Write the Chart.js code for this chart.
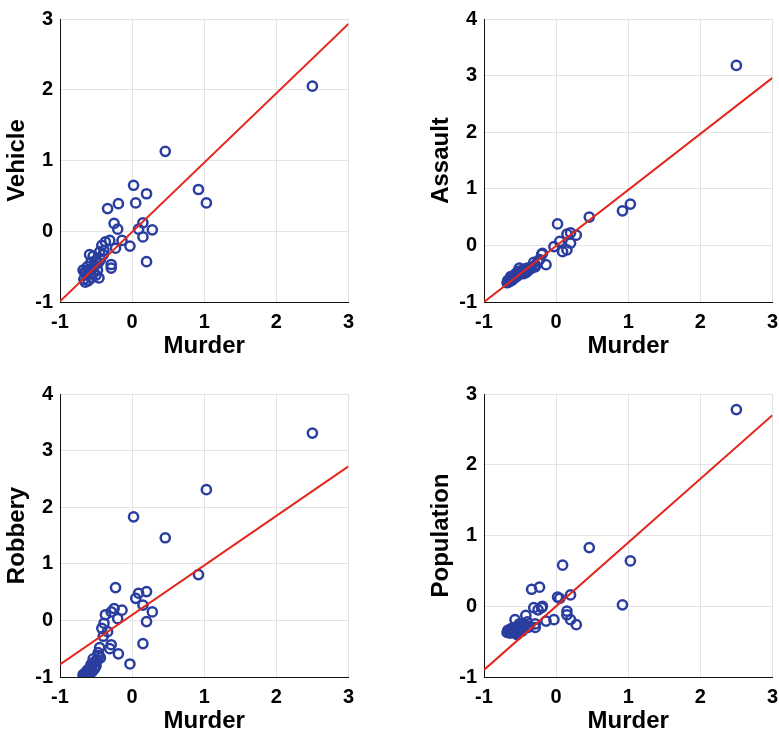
<!DOCTYPE html>
<html>
<head>
<meta charset="utf-8">
<script src="https://cdn.jsdelivr.net/npm/chart.js@4.4.0/dist/chart.umd.min.js"></script>
<style>
  html, body { margin: 0; padding: 0; background: #fff; overflow: hidden; }
  #wrap { position: relative; width: 779px; height: 733px; }
  .cell { position: absolute; width: 362px; height: 358px; }
</style>
</head>
<body>
<div id="wrap">
  <div class="cell" style="left:0;top:0"><canvas id="c0" width="362" height="358"></canvas></div>
  <div class="cell" style="left:424px;top:0"><canvas id="c1" width="362" height="358"></canvas></div>
  <div class="cell" style="left:0;top:375px"><canvas id="c2" width="362" height="358"></canvas></div>
  <div class="cell" style="left:424px;top:375px"><canvas id="c3" width="362" height="358"></canvas></div>
</div>
<script>
// standardized values, one entry per state
const murder = [2.5, 1.03, 0.92, 0.46, 0.28, 0.2, 0.2, 0.15, 0.15, 0.09,
  0.05, 0.02, -0.03, -0.14, -0.19, -0.2, -0.23, -0.25, -0.29, -0.29,
  -0.31, -0.34, -0.37, -0.39, -0.4, -0.42, -0.45, -0.47, -0.48, -0.5,
  -0.52, -0.53, -0.55, -0.56, -0.57, -0.58, -0.59, -0.6, -0.61, -0.62,
  -0.63, -0.64, -0.65, -0.66, -0.67, -0.68, -0.44, -0.46, -0.51, -0.54];

const vehicle = [2.05, 0.4, 0.59, 1.13, 0.02, 0.53, -0.43, 0.12, -0.08, 0.03,
  0.4, 0.65, -0.21, -0.13, 0.39, 0.03, -0.24, 0.11, -0.47, -0.52,
  -0.13, 0.32, -0.15, -0.27, -0.33, -0.2, -0.29, -0.45, -0.55, -0.62,
  -0.48, -0.58, -0.52, -0.66, -0.44, -0.6, -0.33, -0.55, -0.7, -0.5,
  -0.62, -0.57, -0.72, -0.58, -0.68, -0.55, -0.4, -0.66, -0.42, -0.35];

const assault = [3.18, 0.73, 0.61, 0.5, 0.18, 0.22, 0.04, 0.2, -0.08, -0.11,
  0.07, 0.38, -0.02, -0.34, -0.14, -0.16, -0.25, -0.28, -0.35, -0.38,
  -0.3, -0.4, -0.42, -0.45, -0.4, -0.48, -0.5, -0.44, -0.45, -0.5,
  -0.52, -0.46, -0.55, -0.5, -0.56, -0.58, -0.54, -0.6, -0.57, -0.62,
  -0.55, -0.63, -0.6, -0.65, -0.62, -0.66, -0.42, -0.47, -0.4, -0.48];

const robbery = [3.31, 2.31, 0.81, 1.46, 0.15, 0.51, -0.02, 0.27, -0.41, 0.48,
  0.39, 1.83, -0.77, 0.18, -0.59, 0.03, 0.58, 0.21, 0.15, -0.43,
  -0.5, -0.2, 0.1, -0.05, -0.28, -0.14, -0.48, -0.57, -0.7, -0.8,
  -0.85, -0.75, -0.9, -0.82, -0.78, -0.93, -0.86, -0.9, -0.95, -0.88,
  -0.97, -0.92, -0.99, -0.94, -1.0, -0.96, -0.66, -0.62, -0.72, -0.68];

const population = [2.78, 0.64, 0.02, 0.83, -0.26, 0.16, -0.19, -0.07, -0.12, 0.58,
  0.11, 0.13, -0.19, -0.21, 0.0, -0.02, 0.27, -0.05, -0.25, -0.3,
  -0.02, 0.24, -0.28, -0.3, -0.22, -0.13, -0.3, -0.35, -0.3, -0.33,
  -0.28, -0.36, -0.32, -0.38, -0.19, -0.35, -0.3, -0.37, -0.33, -0.36,
  -0.32, -0.38, -0.35, -0.36, -0.34, -0.37, -0.27, -0.33, -0.25, -0.4];

const yNames = ["Vehicle", "Assault", "Robbery", "Population"];
const yMax = [3, 4, 4, 3];
// least squares fit, y = slope * murder + intercept
const fitSlope = [0.98, 0.99, 0.875, 0.9];
const fitIntercept = [-0.01, -0.01, 0.095, 0.0];
const xTicks = [-1, 0, 1, 2, 3];

const allY = [vehicle, assault, robbery, population];
const font = "'Liberation Sans', Arial, Helvetica, sans-serif";
const blue = "rgb(42,62,160)";
const red = "rgb(228,38,28)";

allY.forEach((ys, i) => {
  const pts = murder.map((m, k) => ({ x: m, y: ys[k] }));
  const xMin = xTicks[0], xMax = xTicks[xTicks.length - 1];
  const fit = [xMin, xMax].map(x => ({ x, y: fitSlope[i] * x + fitIntercept[i] }));

  new Chart(document.getElementById("c" + i), {
    type: "scatter",
    data: {
      datasets: [
        {
          type: "line",
          data: fit,
          borderColor: red,
          borderWidth: 2,
          pointRadius: 0,
          fill: false
        },
        {
          data: pts,
          borderColor: blue,
          backgroundColor: "rgba(0,0,0,0)",
          borderWidth: 2.5,
          pointRadius: 4.6,
          pointHoverRadius: 4.6
        }
      ]
    },
    options: {
      responsive: false,
      devicePixelRatio: 1,
      animation: false,
      layout: { padding: { top: 12, right: 12, left: 0, bottom: 0 } },
      plugins: { legend: { display: false }, tooltip: { enabled: false } },
      scales: {
        x: {
          type: "linear",
          min: xMin,
          max: xMax,
          afterFit: s => { s.height = 56; },
          ticks: { stepSize: 1, color: "#000", padding: 8, font: { family: font, size: 20, weight: "bold" } },
          grid: { color: "#e3e3e3", drawTicks: false },
          border: { color: "#111", width: 1 },
          title: { display: true, text: "Murder", color: "#000", padding: { top: 0, bottom: 0 },
                   font: { family: font, size: 24, weight: "bold", lineHeight: 1.0 } }
        },
        y: {
          type: "linear",
          min: -1,
          max: yMax[i],
          afterFit: s => { s.width = 60; },
          ticks: { stepSize: 1, color: "#000", padding: 7, font: { family: font, size: 20, weight: "bold" } },
          grid: { color: "#e3e3e3", drawTicks: false },
          border: { color: "#111", width: 1 },
          title: { display: true, text: yNames[i], color: "#000", padding: { top: 5, bottom: 0 },
                   font: { family: font, size: 24, weight: "bold", lineHeight: 1.0 } }
        }
      }
    }
  });
});
</script>
</body>
</html>
